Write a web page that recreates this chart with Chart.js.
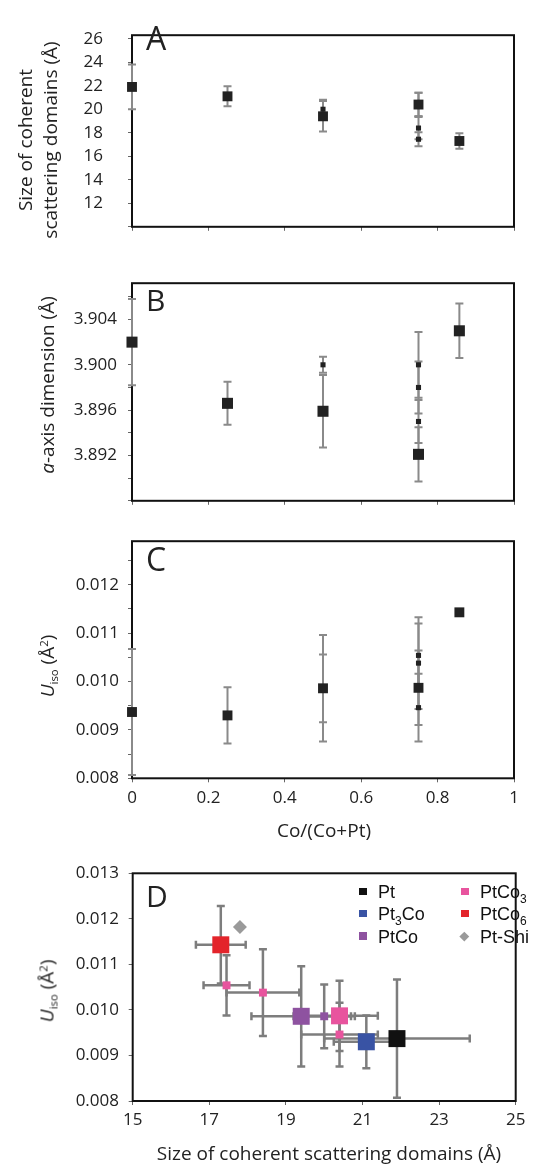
<!DOCTYPE html>
<html>
<head>
<meta charset="utf-8">
<script src="https://cdn.jsdelivr.net/npm/chart.js@4.4.1/dist/chart.umd.min.js"></script>
<style>
html,body{margin:0;padding:0;background:#fff;}
#wrap{position:relative;width:542px;height:1166px;overflow:hidden;font-family:'Open Sans',sans-serif;color:#222;background:#fff;}
canvas{position:absolute;left:0;}
.yt{position:absolute;white-space:nowrap;transform:translate(-50%,-50%) rotate(-90deg);font-size:19px;line-height:25px;text-align:center;}
.xt{position:absolute;white-space:nowrap;transform:translate(-50%,-50%);font-size:19px;line-height:1;}
.pl{position:absolute;line-height:1;}
.sub{font-size:0.6em;position:relative;top:0.35em;}
.sup{font-size:0.6em;position:relative;top:-0.55em;}
.lg{position:absolute;font-family:'Liberation Sans',Arial,sans-serif;font-size:18px;line-height:1;white-space:nowrap;color:#111;}
.lsub{font-size:12px;position:relative;top:5px;}
.sw{position:absolute;width:7.5px;height:7.5px;}
</style>
</head>
<body>
<div id="wrap">
  <canvas id="cA" width="542" height="262" style="top:0"></canvas>
  <canvas id="cB" width="542" height="260" style="top:262px"></canvas>
  <canvas id="cC" width="542" height="328" style="top:522px"></canvas>
  <canvas id="cD" width="542" height="316" style="top:850px"></canvas>

  <div class="yt" style="left:38px;top:140px;">Size of coherent<br>scattering domains (Å)</div>
  <div class="yt" style="left:47px;top:385px;"><i>a</i>-axis dimension (Å)</div>
  <div class="yt" style="left:48px;top:666px;"><i>U</i><span class="sub">iso</span> (Å<span class="sup">2</span>)</div>
  <div class="yt" style="left:48px;top:991px;"><i>U</i><span class="sub">iso</span> (Å<span class="sup">2</span>)</div>
  <div class="xt" style="left:324px;top:830px;">Co/(Co+Pt)</div>
  <div class="xt" style="left:329px;top:1153px;">Size of coherent scattering domains (Å)</div>

  <div class="pl" style="left:146px;top:22px;font-size:32px;">A</div>
  <div class="pl" style="left:146px;top:285px;font-size:30px;">B</div>
  <div class="pl" style="left:146px;top:543px;font-size:32px;">C</div>
  <div class="pl" style="left:146px;top:881px;font-size:30px;">D</div>

  <div class="sw" style="left:359px;top:887.7px;background:#111;"></div>
  <div class="lg" style="left:378px;top:883px;">Pt</div>
  <div class="sw" style="left:359px;top:909.7px;background:#3953a4;"></div>
  <div class="lg" style="left:378px;top:905px;">Pt<span class="lsub">3</span>Co</div>
  <div class="sw" style="left:359px;top:932px;background:#8e52a0;"></div>
  <div class="lg" style="left:378px;top:927.5px;">PtCo</div>
  <div class="sw" style="left:461px;top:887.7px;background:#e8549e;"></div>
  <div class="lg" style="left:480px;top:883px;">PtCo<span class="lsub">3</span></div>
  <div class="sw" style="left:461px;top:909.7px;background:#e3242b;"></div>
  <div class="lg" style="left:480px;top:905px;">PtCo<span class="lsub">6</span></div>
  <div class="sw" style="left:461.4px;top:932.5px;width:6.6px;height:6.6px;background:#9a9a9a;transform:rotate(45deg);"></div>
  <div class="lg" style="left:480px;top:927.5px;">Pt-Shi</div>
</div>
<script>
// ---------------- data ----------------
const materials = ['Pt', 'Pt3Co', 'PtCo', 'PtCo3', 'PtCo6'];
const composition = [0, 0.25, 0.5, 0.75, 0.857];            // Co/(Co+Pt)
const sizeMain = [21.9, 21.1, 19.4, 20.4, 17.3];             // Å
const sizeMainErr = [1.9, 0.85, 1.3, 1.0, 0.65];
const aMain = [3.902, 3.8966, 3.8959, 3.8921, 3.9030];        // Å
const aMainErr = [0.0038, 0.0019, 0.0032, 0.0024, 0.0024];
const uMain = [0.00937, 0.00930, 0.00986, 0.00987, 0.01143];  // Å²
const uMainErrC = [0.0013, 0.00058, 0.0011, 0.00077, 0];
const uMainErrD = [0.0013, 0.00058, 0.0011, 0.00077, 0.00085];

const smallMaterial = ['PtCo', 'PtCo3', 'PtCo3', 'PtCo3'];
const compositionSmall = [0.5, 0.75, 0.75, 0.75];
const sizeSmall = [20.0, 17.45, 18.4, 20.4];
const sizeSmallErr = [0.8, 0.6, 0.95, 1.0];
const aSmall = [3.900, 3.900, 3.898, 3.895];
const aSmallErr = [0.0007, 0.0029, 0.0023, 0.0019];
const uSmall = [0.00986, 0.01054, 0.01038, 0.00946];
const uSmallErr = [0.0007, 0.00066, 0.00095, 0.0007];

const ptShiSize = [17.8];
const ptShiU = [0.01182];

// ---------------- ticks ----------------
const compTicks = [0, 0.2, 0.4, 0.6, 0.8, 1];
const compLabelsHidden = ['', '', '', '', '', ''];
const compLabels = ['0', '0.2', '0.4', '0.6', '0.8', '1'];
const sizeTicksA = [10, 12, 14, 16, 18, 20, 22, 24, 26];
const sizeLabelsA = ['', '12', '14', '16', '18', '20', '22', '24', '26'];
const aTicks = [3.888, 3.890, 3.892, 3.894, 3.896, 3.898, 3.900, 3.902, 3.904, 3.906];
const aLabels = ['', '', '3.892', '', '3.896', '', '3.900', '', '3.904', ''];
const uTicksC = [0.008, 0.0085, 0.009, 0.0095, 0.010, 0.0105, 0.011, 0.0115, 0.012, 0.0125];
const uLabelsC = ['0.008', '', '0.009', '', '0.010', '', '0.011', '', '0.012', ''];
const sizeTicksD = [15, 17, 19, 21, 23, 25];
const sizeLabelsD = ['15', '17', '19', '21', '23', '25'];
const uTicksD = [0.008, 0.009, 0.010, 0.011, 0.012, 0.013];
const uLabelsD = ['0.008', '0.009', '0.010', '0.011', '0.012', '0.013'];

const matColor = {Pt:'#111111', Pt3Co:'#3953a4', PtCo:'#8e52a0', PtCo3:'#e8549e', PtCo6:'#e3242b'};

// ---------------- plugin: frame + error bars ----------------
const errorBars = {
  id: 'errorBars',
  beforeDatasetsDraw(chart, args, opts) {
    const ctx = chart.ctx, ca = chart.chartArea;
    ctx.save();
    ctx.strokeStyle = '#111';
    ctx.lineWidth = 2;
    ctx.strokeRect(ca.left, ca.top, ca.right - ca.left, ca.bottom - ca.top);
    const xs = chart.scales.x, ys = chart.scales.y;
    ctx.strokeStyle = opts.color;
    ctx.lineWidth = opts.width;
    ctx.lineCap = 'butt';
    const cap = opts.cap;
    chart.data.datasets.forEach(ds => {
      ds.data.forEach((p, i) => {
        const px = xs.getPixelForValue(p.x), py = ys.getPixelForValue(p.y);
        const ey = ds.errY ? ds.errY[i] : 0;
        const ex = ds.errX ? ds.errX[i] : 0;
        ctx.beginPath();
        if (ey) {
          const t = ys.getPixelForValue(p.y + ey), b = ys.getPixelForValue(p.y - ey);
          ctx.moveTo(px, t); ctx.lineTo(px, b);
          ctx.moveTo(px - cap, t); ctx.lineTo(px + cap, t);
          ctx.moveTo(px - cap, b); ctx.lineTo(px + cap, b);
        }
        if (ex) {
          const l = xs.getPixelForValue(p.x - ex), r = xs.getPixelForValue(p.x + ex);
          ctx.moveTo(l, py); ctx.lineTo(r, py);
          ctx.moveTo(l, py - cap); ctx.lineTo(l, py + cap);
          ctx.moveTo(r, py - cap); ctx.lineTo(r, py + cap);
        }
        ctx.stroke();
      });
    });
    ctx.restore();
  }
};

Chart.defaults.font.family = "'Open Sans', sans-serif";
Chart.defaults.color = '#222';

function axis(o) {
  return {
    type: 'linear', min: o.min, max: o.max, bounds: 'data',
    afterBuildTicks: s => { s.ticks = o.ticks.map(v => ({value: v})); },
    afterFit: o.fit,
    grid: {display: true, drawOnChartArea: false, drawTicks: true, tickLength: 4, color: '#666', lineWidth: 1},
    border: {display: false},
    ticks: {display: o.labels.some(l => l !== ''), autoSkip: false, maxRotation: 0, minRotation: 0,
            padding: o.pad, font: {size: 17}, color: '#222', callback: (v, i) => o.labels[i]}
  };
}

function build(id, cfg) {
  return new Chart(document.getElementById(id), {
    type: 'scatter',
    data: {datasets: cfg.datasets},
    options: {
      responsive: false, animation: false, events: [],
      layout: {padding: {left: 0, right: cfg.padRight, top: cfg.padTop, bottom: 0}},
      plugins: {legend: {display: false}, tooltip: {enabled: false}, errorBars: cfg.err},
      scales: {x: axis(cfg.x), y: axis(cfg.y)}
    },
    plugins: [errorBars]
  });
}

function pts(xs, ys) { return xs.map((x, i) => ({x: x, y: ys[i]})); }
function sq(data, r, color, errY, errX, style) {
  return {data: data, pointStyle: style || 'rect', pointRadius: r, pointHoverRadius: r,
          backgroundColor: color, borderColor: color, borderWidth: 0, pointBorderWidth: 0,
          clip: false, errY: errY, errX: errX};
}

const errABC = {color: '#8a8a8a', width: 2, cap: 4};
const DARK = '#222';

// Panel A
build('cA', {
  padTop: 17, padRight: 28, err: errABC,
  x: {min: 0, max: 1, ticks: compTicks, labels: compLabelsHidden, pad: 4, fit: s => { s.height = 7; }},
  y: {min: 10, max: 26.3, ticks: sizeTicksA, labels: sizeLabelsA, pad: 25, fit: s => { s.width = 132; }},
  datasets: [
    sq(pts(composition, sizeMain), 7, DARK, sizeMainErr),
    sq(pts(compositionSmall, sizeSmall), 3.6, DARK, sizeSmallErr)
  ]
});

// Panel B
build('cB', {
  padTop: 14.7, padRight: 28, err: errABC,
  x: {min: 0, max: 1, ticks: compTicks, labels: compLabelsHidden, pad: 4, fit: s => { s.height = 9.7; }},
  y: {min: 3.888, max: 3.9072, ticks: aTicks, labels: aLabels, pad: 11, fit: s => { s.width = 132; }},
  datasets: [
    sq(pts(composition, aMain), 7.8, DARK, aMainErr),
    sq(pts(compositionSmall, aSmall), 3.6, DARK, aSmallErr)
  ]
});

// Panel C
build('cC', {
  padTop: 14.7, padRight: 28, err: errABC,
  x: {min: 0, max: 1, ticks: compTicks, labels: compLabels, pad: 6, fit: s => { s.height = 71.7; }},
  y: {min: 0.008, max: 0.0129, ticks: uTicksC, labels: uLabelsC, pad: 9, fit: s => { s.width = 132; }},
  datasets: [
    sq(pts(composition, uMain), 7, DARK, uMainErrC),
    sq(pts(compositionSmall, uSmall), 3.6, DARK, uSmallErr)
  ]
});

// Panel D
const dSets = [];
materials.forEach((m, i) => {
  dSets.push(sq([{x: sizeMain[i], y: uMain[i]}], 12, matColor[m], [uMainErrD[i]], [sizeMainErr[i]]));
});
smallMaterial.forEach((m, j) => {
  dSets.push(sq([{x: sizeSmall[j], y: uSmall[j]}], 5.6, matColor[m], [uSmallErr[j]], [sizeSmallErr[j]]));
});
dSets.push(sq(pts(ptShiSize, ptShiU), 7, '#9a9a9a', null, null, 'rectRot'));

build('cD', {
  padTop: 23.3, padRight: 26.3, err: {color: '#7d7d7d', width: 2.5, cap: 4},
  x: {min: 15, max: 25, ticks: sizeTicksD, labels: sizeLabelsD, pad: 5, fit: s => { s.height = 65; }},
  y: {min: 0.008, max: 0.013, ticks: uTicksD, labels: uLabelsD, pad: 9.7, fit: s => { s.width = 132.7; }},
  datasets: dSets
});
</script>
</body>
</html>
